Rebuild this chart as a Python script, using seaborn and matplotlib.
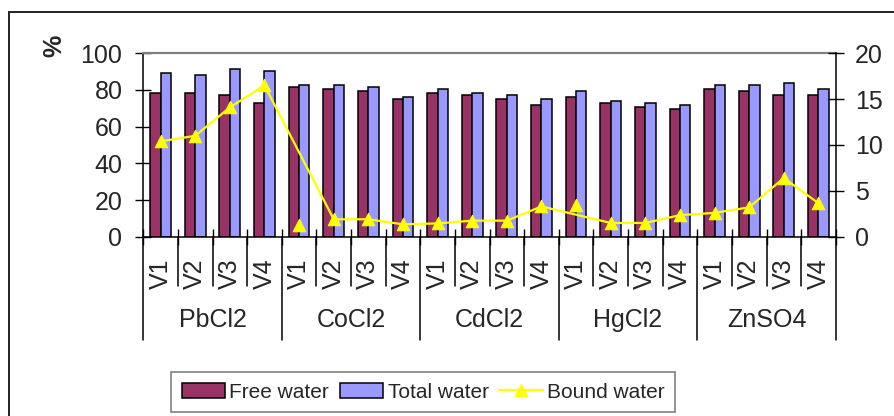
import numpy as np
import pandas as pd
import matplotlib
matplotlib.use("Agg")
import matplotlib.pyplot as plt
import matplotlib.transforms as mtransforms
from matplotlib.patches import Patch, Rectangle
from matplotlib.lines import Line2D
import seaborn as sns

# ---- data -------------------------------------------------------------
salts = ["PbCl2", "CoCl2", "CdCl2", "HgCl2", "ZnSO4"]
variants = ["V1", "V2", "V3", "V4"]

free_water = [78.5, 78.5, 77.5, 72.9,
              81.6, 80.5, 79.6, 75.3,
              78.5, 77.5, 75.3, 71.8,
              76.4, 72.9, 70.9, 69.8,
              80.5, 79.6, 77.5, 77.5]
total_water = [89.5, 88.2, 91.5, 90.4,
               82.7, 82.7, 81.6, 76.4,
               80.5, 78.5, 77.5, 75.3,
               79.6, 74.0, 72.9, 71.8,
               82.7, 82.7, 83.8, 80.5]
bound_water = [10.4, 11.0, 14.1, 16.5,
               1.3, 1.9, 1.9, 1.35,
               1.45, 1.75, 1.75, 3.3,
               3.5, 1.5, 1.5, 2.35,
               2.6, 3.2, 6.4, 3.65]
# points shown only as markers, left out of the connecting line
unlinked = ["CoCl2 V1", "HgCl2 V1"]

left_ticks = [0, 20, 40, 60, 80, 100]
right_ticks = [0, 5, 10, 15, 20]

# ---- styling ----------------------------------------------------------
sns.set_style("white")
plt.rcParams["font.family"] = ["Liberation Sans", "DejaVu Sans"]

FREE_C = "#993366"
TOTAL_C = "#9999FF"
BOUND_C = "#FFFF00"

categories = [f"{s} {v}" for s in salts for v in variants]
df = pd.DataFrame({
    "category": categories * 2,
    "series": ["Free water"] * len(categories) + ["Total water"] * len(categories),
    "value": free_water + total_water,
})

fig = plt.figure(figsize=(8.95, 4.16), dpi=100)
ax = fig.add_axes([0.1601, 0.4310, 0.7737, 0.4409])

sns.barplot(data=df, x="category", y="value", hue="series",
            order=categories, hue_order=["Free water", "Total water"],
            palette={"Free water": FREE_C, "Total water": TOTAL_C},
            width=0.6, edgecolor="black", linewidth=1.1,
            saturation=1, legend=False, ax=ax)

ax.set_ylim(0, 100)
ax.set_xlim(-0.5, len(categories) - 0.5)
ax.set_yticks(left_ticks)
ax.set_xlabel("")
ax.set_ylabel("")
ax.tick_params(axis="y", direction="inout", length=12, width=1,
               labelsize=18, pad=9, left=True, color="black")

# category boundaries as x ticks
bounds = np.arange(-0.5, len(categories), 1.0)
ax.set_xticks(bounds)
ax.set_xticklabels([""] * len(bounds))
ax.tick_params(axis="x", direction="inout", length=12, width=1,
               bottom=True, color="black")

for side in ["left", "bottom"]:
    ax.spines[side].set_color("black")
    ax.spines[side].set_linewidth(1.1)
ax.spines["top"].set_color("#808080")
ax.spines["top"].set_linewidth(1.6)
ax.spines["right"].set_visible(False)

# secondary axis for bound water
ax2 = ax.twinx()
pos = np.arange(len(categories))
bound = np.array(bound_water)
linked = np.array([c not in unlinked for c in categories])
sns.lineplot(x=pos[linked], y=bound[linked], color=BOUND_C, linewidth=1.6,
             ax=ax2, legend=False)
sns.scatterplot(x=pos, y=bound, marker="^", s=80, color=BOUND_C,
                edgecolor=BOUND_C, linewidth=0.8, ax=ax2, legend=False,
                zorder=5)
ax2.set_ylim(0, 20)
ax2.set_yticks(right_ticks)
ax2.set_ylabel("")
ax2.tick_params(axis="y", direction="inout", length=12, width=1,
                labelsize=18, pad=8, right=True, color="black")
for side in ["top", "left", "bottom"]:
    ax2.spines[side].set_visible(False)
ax2.spines["right"].set_color("black")
ax2.spines["right"].set_linewidth(1.1)

# two-level category labels below the axis
trans = mtransforms.blended_transform_factory(ax.transData, ax.transAxes)
for i, c in enumerate(categories):
    ax.text(i, -0.20, c.split()[1], transform=trans, rotation=90,
            ha="center", va="center", fontsize=18)
for g, s in enumerate(salts):
    ax.text(g * 4 + 1.5, -0.455, s, transform=trans,
            ha="center", va="center", fontsize=18)
for b in bounds:
    group_edge = (b + 0.5) % 4 == 0
    y_end = -0.565 if group_edge else -0.27
    ax.add_line(Line2D([b, b], [0, y_end], transform=trans, color="black",
                       linewidth=1.1, clip_on=False))

# unit label
fig.text(54 / 895, 1 - 46 / 416, "%", rotation=90, ha="center", va="center",
         fontsize=18, fontweight="bold")

# legend
handles = [
    Patch(facecolor=FREE_C, edgecolor="black", linewidth=1.1, label="Free water"),
    Patch(facecolor=TOTAL_C, edgecolor="black", linewidth=1.1, label="Total water"),
    Line2D([], [], color=BOUND_C, linewidth=1.6, marker="^", markersize=9,
           markerfacecolor=BOUND_C, markeredgecolor=BOUND_C, label="Bound water"),
]
leg = fig.legend(handles=handles, ncol=3, loc="center",
                 bbox_to_anchor=(423 / 895, 24 / 416), fontsize=15,
                 frameon=True, fancybox=False, shadow=False,
                 handlelength=2.1, handletextpad=0.2, columnspacing=0.5,
                 borderpad=0.5, borderaxespad=0)
leg.get_frame().set_edgecolor("#555555")
leg.get_frame().set_linewidth(1.1)

# chart border
fig.patches.append(Rectangle((9 / 895, -0.1), 1.2, 1 - 12 / 416 + 0.1,
                             transform=fig.transFigure, fill=False,
                             edgecolor="#222222", linewidth=1.4))

fig.savefig("out.png", dpi=100)
